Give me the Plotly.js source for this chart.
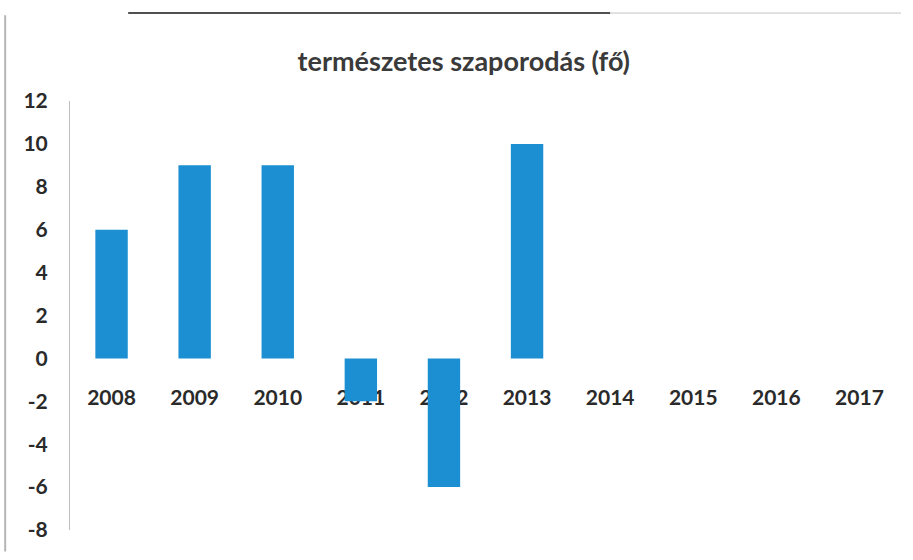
<!DOCTYPE html>
<html>
<head>
<meta charset="utf-8">
<script src="https://cdn.plot.ly/plotly-3.0.1.min.js"></script>
<style>html,body{margin:0;padding:0;background:#fff;}#chart{width:913px;height:560px;}</style>
</head>
<body>
<div id="chart"></div>
<script>
const years = ['2008','2009','2010','2011','2012','2013','2014','2015','2016','2017'];
const values = [6, 9, 9, -2, -6, 10, 0, 0, 0, 0];
const yTicks = [12, 10, 8, 6, 4, 2, 0, -2, -4, -6, -8];
const chartTitle = 'természetes szaporodás (fő)';

const font = 'Lato, "Open Sans", sans-serif';
const trace = {
  type: 'bar',
  x: years,
  y: values,
  marker: {color: '#1b8fd2'},
  hoverinfo: 'x+y'
};
const layout = {
  width: 913, height: 560,
  margin: {l: 70, r: 12, t: 101, b: 30},
  paper_bgcolor: '#fff', plot_bgcolor: '#fff',
  showlegend: false,
  bargap: 0.61,
  title: {
    text: chartTitle,
    font: {family: font, size: 27, color: '#3a3a3a', weight: 'bold'},
    x: 0.508, xanchor: 'center', y: 0.89, yanchor: 'middle', yref: 'container'
  },
  xaxis: {
    type: 'category',
    anchor: 'free', position: 0.4,
    showgrid: false, zeroline: false, showline: false,
    ticks: '', ticklabelstandoff: 25,
    layer: 'below traces',
    tickfont: {family: font, size: 21, color: '#2a2a2a', weight: 'bold'}
  },
  yaxis: {
    range: [-8, 12],
    tickvals: yTicks,
    ticktext: yTicks.map(String),
    showgrid: false, zeroline: false,
    showline: true, linecolor: '#bdbdbd', linewidth: 1,
    ticks: '', ticklabelstandoff: 17,
    tickfont: {family: font, size: 21, color: '#2a2a2a', weight: 'bold'}
  },
  shapes: [
    {type: 'line', xref: 'paper', yref: 'paper', x0: -0.078, x1: -0.078, y0: -0.05, y1: 1.2,
     line: {color: '#b5b5b5', width: 2}},
    {type: 'line', xref: 'paper', yref: 'paper', x0: 0.07, x1: 0.65, y0: 1.205, y1: 1.205,
     line: {color: '#505050', width: 2}},
    {type: 'line', xref: 'paper', yref: 'paper', x0: 0.65, x1: 1.0, y0: 1.205, y1: 1.205,
     line: {color: '#c4c4c4', width: 1}}
  ]
};
Plotly.newPlot('chart', [trace], layout, {displayModeBar: false, staticPlot: true});
</script>
</body>
</html>
